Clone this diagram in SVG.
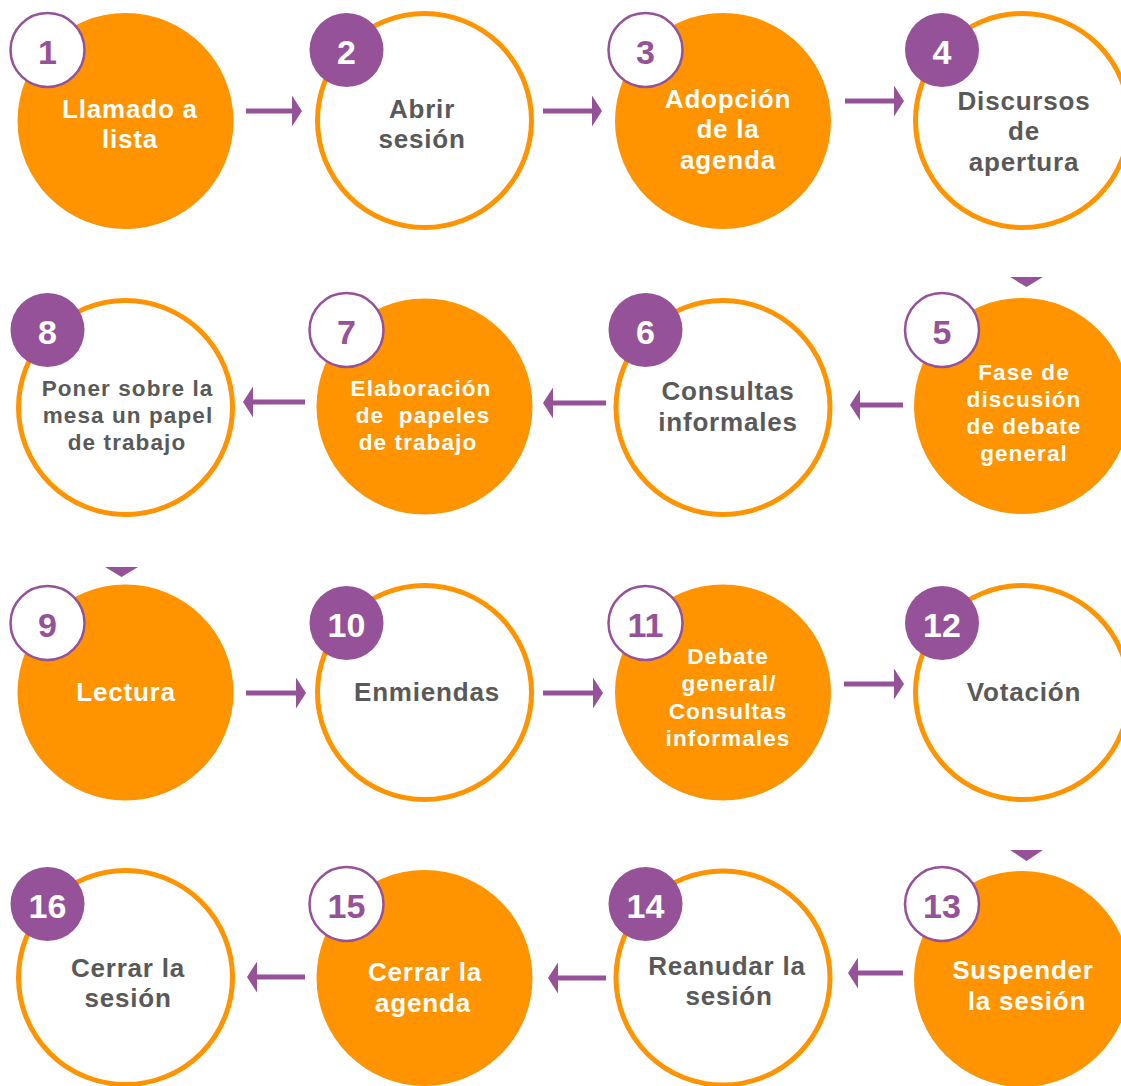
<svg xmlns="http://www.w3.org/2000/svg" width="1121" height="1086" viewBox="0 0 1121 1086">
<defs>
<style>
.fillc{fill:#FF9400}
.ring{fill:#fff;stroke:#FF9400;stroke-width:5}
.bo{fill:#fff;stroke:#965299;stroke-width:2.5}
.bf{fill:#965299}
.num{font-family:"Liberation Sans",Arial,sans-serif;font-weight:bold;font-size:34px;text-anchor:middle}
.nw{fill:#fff}
.np{fill:#965299}
.lbl{font-family:"Liberation Sans",Arial,sans-serif;font-weight:bold;font-size:26px;letter-spacing:0.8px;text-anchor:middle}
.sm{font-size:22.5px;letter-spacing:1.1px}
.w{fill:#fff}
.g{fill:#595959}
.conn path{fill:none;stroke:#965299;stroke-width:5}
.conn polygon{fill:#965299}
</style>
<marker id="ah" markerUnits="userSpaceOnUse" markerWidth="10" markerHeight="31" refX="0" refY="15.5" orient="auto" viewBox="0 0 10 31">
<path d="M0,0 L10,15.5 L0,31 Z" fill="#965299"/>
</marker>
</defs>
<rect width="1121" height="1086" fill="#fff"/>

<g id="connectors" class="conn">
<path d="M246,111 H292" marker-end="url(#ah)"/>
<path d="M543,111 H592" marker-end="url(#ah)"/>
<path d="M845,101 H894" marker-end="url(#ah)"/>
<polygon points="1010,277 1043,277 1026.5,287"/>
<path d="M903,405 H860" marker-end="url(#ah)"/>
<path d="M606,403 H553" marker-end="url(#ah)"/>
<path d="M305,402 H253" marker-end="url(#ah)"/>
<polygon points="105,567 138,567 121.5,577"/>
<path d="M246,693 H296" marker-end="url(#ah)"/>
<path d="M543,693 H593" marker-end="url(#ah)"/>
<path d="M844,684 H894" marker-end="url(#ah)"/>
<polygon points="1010,850 1043,850 1026.5,861"/>
<path d="M903,973 H858" marker-end="url(#ah)"/>
<path d="M606,978 H558" marker-end="url(#ah)"/>
<path d="M305,977 H257" marker-end="url(#ah)"/>
</g>

<g id="node1">
<circle class="fillc" cx="125.5" cy="121" r="108"/>
<circle class="bo" cx="47.5" cy="50" r="37"/>
<text class="num np" x="47.5" y="64">1</text>
<text class="lbl w" x="130" y="118">Llamado a</text>
<text class="lbl w" x="130" y="148">lista</text>
</g>
<g id="node2">
<circle class="ring" cx="424.5" cy="120.5" r="107"/>
<circle class="bf" cx="346.5" cy="50" r="37"/>
<text class="num nw" x="346.5" y="64">2</text>
<text class="lbl g" x="422" y="118">Abrir</text>
<text class="lbl g" x="422" y="148">sesión</text>
</g>
<g id="node3">
<circle class="fillc" cx="723" cy="121" r="108"/>
<circle class="bo" cx="645.5" cy="50" r="37"/>
<text class="num np" x="645.5" y="64">3</text>
<text class="lbl w" x="728" y="108">Adopción</text>
<text class="lbl w" x="728" y="138">de la</text>
<text class="lbl w" x="728" y="169">agenda</text>
</g>
<g id="node4">
<circle class="ring" cx="1022.5" cy="120.5" r="107"/>
<circle class="bf" cx="942" cy="50" r="37"/>
<text class="num nw" x="942" y="64">4</text>
<text class="lbl g" x="1024" y="110">Discursos</text>
<text class="lbl g" x="1024" y="140">de</text>
<text class="lbl g" x="1024" y="171">apertura</text>
</g>
<g id="node5">
<circle class="fillc" cx="1022" cy="406" r="108"/>
<circle class="bo" cx="942" cy="330" r="37"/>
<text class="num np" x="942" y="344">5</text>
<text class="lbl sm w" x="1024" y="380">Fase de</text>
<text class="lbl sm w" x="1024" y="407">discusión</text>
<text class="lbl sm w" x="1024" y="434">de debate</text>
<text class="lbl sm w" x="1024" y="461">general</text>
</g>
<g id="node6">
<circle class="ring" cx="723" cy="407.5" r="107"/>
<circle class="bf" cx="645.5" cy="330" r="37"/>
<text class="num nw" x="645.5" y="344">6</text>
<text class="lbl g" x="728" y="400">Consultas</text>
<text class="lbl g" x="728" y="431">informales</text>
</g>
<g id="node7">
<circle class="fillc" cx="424.5" cy="406.5" r="108"/>
<circle class="bo" cx="346.5" cy="330" r="37"/>
<text class="num np" x="346.5" y="344">7</text>
<text class="lbl sm w" x="421" y="396">Elaboración</text>
<text class="lbl sm w" x="423" y="423">de&#160;&#160;papeles</text>
<text class="lbl sm w" x="418" y="450">de trabajo</text>
</g>
<g id="node8">
<circle class="ring" cx="125.5" cy="407.5" r="107"/>
<circle class="bf" cx="47.5" cy="330" r="37"/>
<text class="num nw" x="47.5" y="344">8</text>
<text class="lbl sm g" x="127.5" y="396">Poner sobre la</text>
<text class="lbl sm g" x="128" y="423">mesa un papel</text>
<text class="lbl sm g" x="127" y="450">de trabajo</text>
</g>
<g id="node9">
<circle class="fillc" cx="125.5" cy="692.5" r="108"/>
<circle class="bo" cx="47.5" cy="623" r="37"/>
<text class="num np" x="47.5" y="637">9</text>
<text class="lbl w" x="126" y="701">Lectura</text>
</g>
<g id="node10">
<circle class="ring" cx="424.5" cy="692.5" r="107"/>
<circle class="bf" cx="346.5" cy="623" r="37"/>
<text class="num nw" x="346.5" y="637">10</text>
<text class="lbl g" x="427" y="701">Enmiendas</text>
</g>
<g id="node11">
<circle class="fillc" cx="723" cy="692.5" r="108"/>
<circle class="bo" cx="645.5" cy="623" r="37"/>
<text class="num np" x="645.5" y="637">11</text>
<text class="lbl sm w" x="728" y="664">Debate</text>
<text class="lbl sm w" x="729" y="691">general/</text>
<text class="lbl sm w" x="728" y="719">Consultas</text>
<text class="lbl sm w" x="728" y="746">informales</text>
</g>
<g id="node12">
<circle class="ring" cx="1022.5" cy="692.5" r="107"/>
<circle class="bf" cx="942" cy="623" r="37"/>
<text class="num nw" x="942" y="637">12</text>
<text class="lbl g" x="1024" y="701">Votación</text>
</g>
<g id="node13">
<circle class="fillc" cx="1022" cy="979" r="108"/>
<circle class="bo" cx="942" cy="904" r="37"/>
<text class="num np" x="942" y="918">13</text>
<text class="lbl w" x="1023" y="979">Suspender</text>
<text class="lbl w" x="1027" y="1010">la sesión</text>
</g>
<g id="node14">
<circle class="ring" cx="723" cy="978" r="107"/>
<circle class="bf" cx="645.5" cy="904" r="37"/>
<text class="num nw" x="645.5" y="918">14</text>
<text class="lbl g" x="727" y="975">Reanudar la</text>
<text class="lbl g" x="729" y="1005">sesión</text>
</g>
<g id="node15">
<circle class="fillc" cx="424.5" cy="978" r="108"/>
<circle class="bo" cx="346.5" cy="904" r="37"/>
<text class="num np" x="346.5" y="918">15</text>
<text class="lbl w" x="425" y="981">Cerrar la</text>
<text class="lbl w" x="423" y="1012">agenda</text>
</g>
<g id="node16">
<circle class="ring" cx="125.5" cy="977.5" r="107"/>
<circle class="bf" cx="47.5" cy="904" r="37"/>
<text class="num nw" x="47.5" y="918">16</text>
<text class="lbl g" x="128" y="977">Cerrar la</text>
<text class="lbl g" x="128" y="1007">sesión</text>
</g>
</svg>
